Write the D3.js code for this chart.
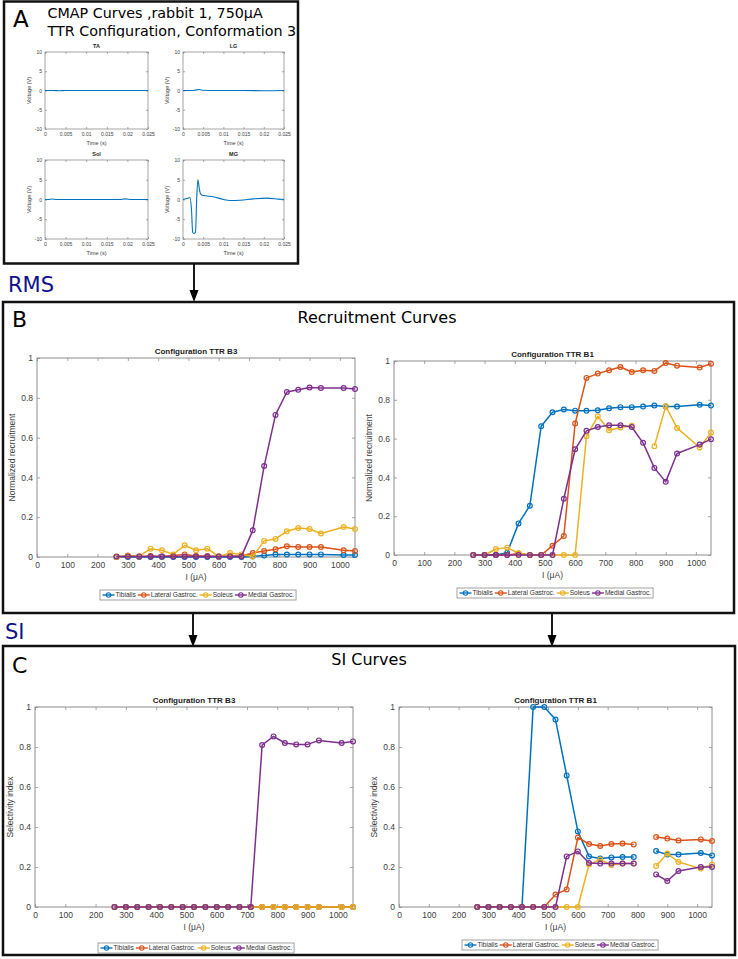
<!DOCTYPE html>
<html><head><meta charset="utf-8">
<script src="https://cdn.jsdelivr.net/npm/d3@7"></script>
<style>body{margin:0;background:#fff}svg{display:block}</style>
</head><body>
<svg id="fig" width="738" height="959"></svg>
<script>
// ---------------- DATA ----------------
const muscles = ["Tibialis", "Lateral Gastroc.", "Soleus", "Medial Gastroc."];
const colors = ["#0072BD", "#D95319", "#EDB120", "#7E2F8E"];
const currents = [262.5,300,337.5,375,412.5,450,487.5,525,562.5,600,637.5,675,712.5,750,787.5,825,862.5,900,937.5,1012.5,1050];
const xTickVals = [0,100,200,300,400,500,600,700,800,900,1000];
const yTickVals = [0,0.2,0.4,0.6,0.8,1];

// Recruitment curves, configuration TTR B3
const rcB3Tibialis = [0,0,0,0,0,0,0,0,0,0,0,0,0.003,0.007,0.012,0.012,0.012,0.013,0.013,0.010,0.010];
const rcB3Lateral  = [0,0.008,0.003,0.005,0.003,0.008,0.013,0.005,0.005,0.002,0.005,0.005,0.02,0.03,0.039,0.054,0.05,0.05,0.05,0.034,0.03];
const rcB3Soleus   = [0,0.005,0.003,0.042,0.034,0.013,0.059,0.034,0.042,0.003,0.02,0.013,0.003,0.081,0.091,0.129,0.146,0.141,0.118,0.151,0.141];
const rcB3Medial   = [0.003,0.003,0.003,0.003,0.003,0.003,0.003,0.003,0.003,0.003,0.003,0.003,0.134,0.457,0.714,0.829,0.84,0.852,0.849,0.849,0.844];
// Recruitment curves, configuration TTR B1
const rcB1Tibialis = [0,0,0,0.012,0.163,0.254,0.664,0.736,0.75,0.744,0.743,0.746,0.756,0.762,0.762,0.765,0.77,0.765,0.765,0.774,0.77];
const rcB1Lateral  = [0,0,0,0,0.008,0,0,0.048,0.098,0.678,0.913,0.935,0.952,0.969,0.943,0.952,0.949,0.99,0.976,0.966,0.986];
const rcB1Soleus   = [0,0,0.031,0.038,0.009,0,0,0,0,0,0.612,0.715,0.643,0.657,0.666,null,0.561,0.767,0.655,0.554,0.631];
const rcB1Medial   = [0,0,0,0,0,0,0,0,0.29,0.545,0.64,0.66,0.669,0.669,0.66,0.578,0.449,0.377,0.523,0.569,0.597];
// SI curves, configuration TTR B3
const siB3Tibialis = [0,0,0,0,0,0,0,0,0,0,0,0,0,0,0,0,0,0,0,0,0];
const siB3Lateral  = [0,0,0,0,0,0,0,0,0,0,0,0,0,0,0,0,0,0,0,0,0];
const siB3Soleus   = [0,0,0,0,0,0,0,0,0,0,0,0,0,0,0,0,0,0,0,0,0];
const siB3Medial   = [0,0,0,0,0,0,0,0,0,0,0,0,0,0.81,0.853,0.82,0.813,0.813,0.833,0.82,0.828];
// SI curves, configuration TTR B1
const siB1Tibialis = [0,0,0,0,0,1,1,0.937,0.658,0.378,0.253,0.242,0.248,0.25,0.25,null,0.28,0.262,0.262,0.27,0.258];
const siB1Lateral  = [0,0,0,0,0,0,0,0.062,0.088,0.347,0.315,0.305,0.315,0.317,0.313,null,0.35,0.342,0.333,0.338,0.33];
const siB1Soleus   = [0,0,0,0,0,0,0,0,0,0,0.213,0.237,0.21,0.217,0.217,null,0.205,0.267,0.225,0.192,0.213];
const siB1Medial   = [0,0,0,0,0,0,0,0,0.253,0.278,0.22,0.217,0.217,0.217,0.217,null,0.163,0.13,0.18,0.2,0.2];

// CMAP traces (panel A)
const cmapXTicks = [0,0.005,0.01,0.015,0.02,0.025];
const cmapYTicks = [-10,-5,0,5,10];
const taTime  = [0,0.002,0.0035,0.005,0.01,0.015,0.02,0.025];
const taVolt  = [0,0,-0.05,0,0,0,0,0];
const lgTime  = [0,0.002,0.003,0.004,0.005,0.008,0.015,0.02,0.025];
const lgVolt  = [0,0,0.1,0.25,0.05,0,0,-0.05,0];
const solTime = [0,0.001,0.0015,0.003,0.01,0.018,0.0195,0.021,0.025];
const solVolt = [0,0,0.12,0,0,0,0.15,0,0];
const mgTime  = [0,0.0012,0.0017,0.0021,0.0024,0.0027,0.0031,0.0034,0.0037,0.0040,0.0043,0.0047,0.0060,0.0075,0.0100,0.0116,0.0141,0.0174,0.0207,0.0236,0.025];
const mgVolt  = [0,0.3,0.5,-2.5,-8.3,-8.6,-8.2,0.5,5.0,3.0,1.5,1.1,0.9,0.7,0.0,-0.25,-0.2,0.15,0.35,0.1,0];

// ---------------- DRAWING ----------------
const svg = d3.select("#fig");
const AX = "#8e8e8e", TXT = "#404040", MF = "'Liberation Sans', Arial, sans-serif", DF = "'DejaVu Sans', sans-serif";

function styleAxis(g, fs) {
  g.select(".domain").remove();
  g.selectAll(".tick line").attr("stroke", AX).attr("stroke-width", 0.8);
  g.selectAll(".tick text").attr("fill", TXT).attr("font-size", fs).attr("font-family", MF);
}

function legend(g, lx, ly, h, fs) {
  const lg = g.append("g");
  const box = lg.append("rect").attr("x", lx).attr("y", ly).attr("height", h)
    .attr("fill", "#fff").attr("stroke", "#8a8a8a").attr("stroke-width", 0.8);
  let cx = lx + 2.5;
  const cy = ly + h / 2;
  muscles.forEach((m, i) => {
    lg.append("line").attr("x1", cx).attr("x2", cx + 12).attr("y1", cy).attr("y2", cy)
      .attr("stroke", colors[i]).attr("stroke-width", 1.4);
    lg.append("circle").attr("cx", cx + 6).attr("cy", cy).attr("r", 2.2)
      .attr("fill", "none").attr("stroke", colors[i]).attr("stroke-width", 1.1);
    const t = lg.append("text").attr("x", cx + 13).attr("y", cy + fs * 0.36).text(m)
      .attr("font-size", fs).attr("font-family", MF).attr("fill", "#333");
    cx += 13 + t.node().getComputedTextLength() + 2;
  });
  box.attr("width", cx - lx);
}

function plot(cfg) {
  const g = svg.append("g");
  const x = d3.scaleLinear().domain([0, 1050]).range([cfg.l, cfg.r]);
  const y = d3.scaleLinear().domain([0, 1]).range([cfg.b, cfg.t]);
  g.append("rect").attr("x", cfg.l).attr("y", cfg.t).attr("width", cfg.r - cfg.l).attr("height", cfg.b - cfg.t)
    .attr("fill", "#fff").attr("stroke", AX).attr("stroke-width", 1);
  g.append("g").attr("transform", `translate(0,${cfg.b})`)
    .call(d3.axisBottom(x).tickValues(xTickVals).tickSize(-3).tickPadding(5).tickFormat(d => String(d)))
    .call(a => styleAxis(a, 8.5));
  g.append("g").attr("transform", `translate(0,${cfg.t})`)
    .call(d3.axisTop(x).tickValues(xTickVals).tickSize(-3).tickFormat(""))
    .call(a => styleAxis(a, 8.5));
  g.append("g").attr("transform", `translate(${cfg.l},0)`)
    .call(d3.axisLeft(y).tickValues(yTickVals).tickSize(-3).tickPadding(4).tickFormat(d => String(d)))
    .call(a => styleAxis(a, 8.5));
  g.append("g").attr("transform", `translate(${cfg.r},0)`)
    .call(d3.axisRight(y).tickValues(yTickVals).tickSize(-3).tickFormat(""))
    .call(a => styleAxis(a, 8.5));
  const line = d3.line().defined(d => d[1] != null).x(d => x(d[0])).y(d => y(d[1]));
  cfg.series.forEach((s, i) => {
    const pts = currents.map((c, k) => [c, s[k]]);
    g.append("path").attr("d", line(pts)).attr("fill", "none").attr("stroke", colors[i])
      .attr("stroke-width", 1.5).attr("stroke-linejoin", "round");
    g.selectAll(null).data(pts.filter(p => p[1] != null)).enter().append("circle")
      .attr("cx", p => x(p[0])).attr("cy", p => y(p[1])).attr("r", 2.4)
      .attr("fill", "none").attr("stroke", colors[i]).attr("stroke-width", 1.2);
  });
  g.append("text").attr("x", (cfg.l + cfg.r) / 2).attr("y", cfg.t - 4).attr("text-anchor", "middle")
    .attr("font-size", 8).attr("font-weight", "bold").attr("font-family", MF).attr("fill", "#222")
    .text(cfg.title);
  g.append("text").attr("x", (cfg.l + cfg.r) / 2).attr("y", cfg.b + 23).attr("text-anchor", "middle")
    .attr("font-size", 8.5).attr("font-family", MF).attr("fill", TXT).text("I (\u03bcA)");
  g.append("text").attr("transform", `translate(${cfg.l - 22},${(cfg.t + cfg.b) / 2}) rotate(-90)`)
    .attr("text-anchor", "middle").attr("font-size", 8.5).attr("font-family", MF).attr("fill", TXT)
    .text(cfg.ylabel);
  legend(g, cfg.legX, cfg.legY, 10, 6.6);
}

function mini(cfg) {
  const g = svg.append("g");
  const x = d3.scaleLinear().domain([0, 0.025]).range([cfg.l, cfg.r]);
  const y = d3.scaleLinear().domain([-10, 10]).range([cfg.b, cfg.t]);
  g.append("rect").attr("x", cfg.l).attr("y", cfg.t).attr("width", cfg.r - cfg.l).attr("height", cfg.b - cfg.t)
    .attr("fill", "#fff").attr("stroke", AX).attr("stroke-width", 0.8);
  g.append("g").attr("transform", `translate(0,${cfg.b})`)
    .call(d3.axisBottom(x).tickValues(cmapXTicks).tickSize(-2).tickPadding(3).tickFormat(d => String(d)))
    .call(a => styleAxis(a, 5));
  g.append("g").attr("transform", `translate(0,${cfg.t})`)
    .call(d3.axisTop(x).tickValues(cmapXTicks).tickSize(-2).tickFormat(""))
    .call(a => styleAxis(a, 5));
  g.append("g").attr("transform", `translate(${cfg.l},0)`)
    .call(d3.axisLeft(y).tickValues(cmapYTicks).tickSize(-2).tickPadding(3).tickFormat(d => String(d)))
    .call(a => styleAxis(a, 5));
  g.append("g").attr("transform", `translate(${cfg.r},0)`)
    .call(d3.axisRight(y).tickValues(cmapYTicks).tickSize(-2).tickFormat(""))
    .call(a => styleAxis(a, 5));
  const line = d3.line().x(d => x(d[0])).y(d => y(d[1])).curve(d3.curveMonotoneX);
  g.append("path").attr("d", line(cfg.t_.map((t, k) => [t, cfg.v[k]])))
    .attr("fill", "none").attr("stroke", "#0072BD").attr("stroke-width", 1.1);
  g.append("text").attr("x", (cfg.l + cfg.r) / 2).attr("y", cfg.t - 4).attr("text-anchor", "middle")
    .attr("font-size", 5.5).attr("font-weight", "bold").attr("font-family", MF).attr("fill", "#222").text(cfg.title);
  g.append("text").attr("x", (cfg.l + cfg.r) / 2).attr("y", cfg.b + 16).attr("text-anchor", "middle")
    .attr("font-size", 5.5).attr("font-family", MF).attr("fill", TXT).text("Time (s)");
  g.append("text").attr("transform", `translate(${cfg.l - 14},${(cfg.t + cfg.b) / 2}) rotate(-90)`)
    .attr("text-anchor", "middle").attr("font-size", 5.5).attr("font-family", MF).attr("fill", TXT).text("Voltage (V)");
}

function arrow(ax, y1, y2) {
  svg.append("line").attr("x1", ax).attr("x2", ax).attr("y1", y1).attr("y2", y2 - 10)
    .attr("stroke", "#000").attr("stroke-width", 1.8);
  svg.append("path").attr("d", `M${ax - 4.5},${y2 - 12} L${ax + 4.5},${y2 - 12} L${ax},${y2} Z`).attr("fill", "#000");
}

// ----- Panel A -----
const clip = svg.append("defs").append("clipPath").attr("id", "titleClip");
clip.append("rect").attr("x", 0).attr("y", 0).attr("width", 738).attr("height", 37.5);
const tA = svg.append("g").attr("clip-path", "url(#titleClip)");
tA.append("text").attr("x", 47.5).attr("y", 18).attr("font-size", 14.3).attr("font-family", DF).attr("fill", "#000")
  .text("CMAP Curves ,rabbit 1, 750\u03bcA");
tA.append("text").attr("x", 47.5).attr("y", 36).attr("font-size", 14.3).attr("font-family", DF).attr("fill", "#000")
  .text("TTR Configuration, Conformation 3");
svg.append("text").attr("x", 13).attr("y", 27).attr("font-size", 23).attr("font-family", DF).text("A");

mini({l: 45, r: 148, t: 52, b: 129, title: "TA", t_: taTime, v: taVolt});
mini({l: 183, r: 284, t: 52, b: 129, title: "LG", t_: lgTime, v: lgVolt});
mini({l: 45, r: 148, t: 160, b: 239, title: "Sol", t_: solTime, v: solVolt});
mini({l: 183, r: 284, t: 160, b: 239, title: "MG", t_: mgTime, v: mgVolt});

arrow(194, 263, 302);
svg.append("text").attr("x", 8).attr("y", 292).attr("font-size", 21).attr("font-family", DF).attr("fill", "#10108a").text("RMS");

// ----- Panel B -----
svg.append("text").attr("x", 12).attr("y", 327).attr("font-size", 22).attr("font-family", DF).text("B");
svg.append("text").attr("x", 377).attr("y", 323).attr("text-anchor", "middle").attr("font-size", 16)
  .attr("font-family", DF).text("Recruitment Curves");
plot({l: 37, r: 355, t: 358, b: 557, title: "Configuration  TTR B3", ylabel: "Normalized recruitment",
  series: [rcB3Tibialis, rcB3Lateral, rcB3Soleus, rcB3Medial], legX: 100, legY: 590});
plot({l: 394, r: 711, t: 361, b: 555, title: "Configuration  TTR B1", ylabel: "Normalized recruitment",
  series: [rcB1Tibialis, rcB1Lateral, rcB1Soleus, rcB1Medial], legX: 457, legY: 588});

svg.append("text").attr("x", 5).attr("y", 639).attr("font-size", 21).attr("font-family", DF).attr("fill", "#10108a").text("SI");
arrow(193, 613, 647);
arrow(552, 613, 647);

// ----- Panel C -----
svg.append("text").attr("x", 12).attr("y", 673).attr("font-size", 22).attr("font-family", DF).text("C");
svg.append("text").attr("x", 369).attr("y", 665).attr("text-anchor", "middle").attr("font-size", 16)
  .attr("font-family", DF).text("SI Curves");
plot({l: 35, r: 353, t: 707, b: 907, title: "Configuration  TTR B3", ylabel: "Selectivity index",
  series: [siB3Tibialis, siB3Lateral, siB3Soleus, siB3Medial], legX: 98, legY: 943});
plot({l: 399, r: 712, t: 707, b: 907, title: "Configuration  TTR B1", ylabel: "Selectivity index",
  series: [siB1Tibialis, siB1Lateral, siB1Soleus, siB1Medial], legX: 462, legY: 940});

// panel frames
[[4, 1.5, 294, 262], [3, 302, 731, 311], [3, 646, 732, 309]].forEach(r => {
  svg.append("rect").attr("x", r[0]).attr("y", r[1]).attr("width", r[2]).attr("height", r[3])
    .attr("fill", "none").attr("stroke", "#111").attr("stroke-width", 2.5);
});
</script>
</body></html>
